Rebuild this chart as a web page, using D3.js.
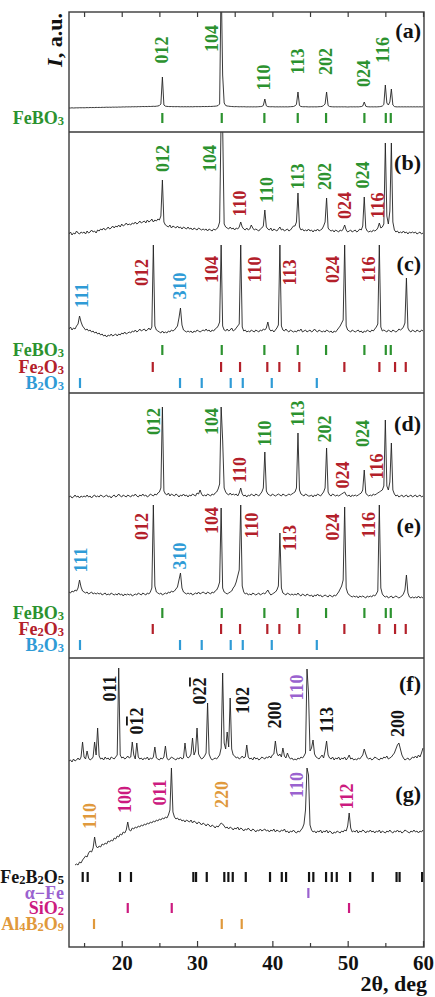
<!DOCTYPE html>
<html>
<head>
<meta charset="utf-8">
<script src="https://cdn.jsdelivr.net/npm/d3@7"></script>
<style>
  body { margin: 0; background: #fff; }
  svg text { font-family: "Liberation Serif", "Times New Roman", serif; font-weight: bold; }
</style>
</head>
<body>
<svg id="chart" width="435" height="997" font-family="Liberation Serif, Times New Roman, serif"></svg>
<script>
// Scans are recorded on a uniform 2θ grid: 13.0° … 60.0°, step 0.2°
const twoThetaStart = 13;
const twoThetaStep = 0.2;

// Intensities (a.u.), ten points (2°) per row; null = not measured
const scanA = [
  0,0,0.2,0,0.1,0.2,0.1,0.3,0.2,0.3,
  0.2,0.3,0.4,0.3,0.5,0.4,0.5,0.4,0.6,0.5,
  0.6,0.5,0.7,0.6,0.7,0.8,0.7,0.8,0.7,0.9,
  0.8,0.9,0.8,1,0.9,1,1.1,1,1.2,1.1,
  1.2,1.1,1.3,1.2,1.3,1.2,1.4,1.3,1.4,1.5,
  1.4,1.5,1.4,1.6,1.5,1.6,1.7,1.6,1.8,2,
  2.5,4,31,3,1.8,1.6,1.5,1.4,1.5,1.3,
  1.4,1.3,1.4,1.3,1.2,1.3,1.2,1.3,1.2,1.3,
  1.2,1.3,1.2,1.3,1.4,1.3,1.4,1.3,1.4,1.5,
  1.4,1.5,1.4,1.6,1.5,1.6,1.7,1.8,2,2.5,
  4,130,33,5,2.5,2,1.8,1.6,1.5,1.4,
  1.3,1.4,1.3,1.2,1.3,1.2,1.3,1.2,1.1,1.2,
  1.1,1.2,1.1,1.2,1.1,1.2,1.3,1.4,1.6,2.5,
  9,2.2,1.4,1.3,1.2,1.3,1.2,1.1,1.2,1.1,
  1.2,1.1,1.2,1.1,1.2,1.1,1.2,1.3,1.4,1.5,
  2.2,3.5,16,2.5,1.5,1.3,1.2,1.3,1.2,1.1,
  1.1,1.2,1.1,1.2,1.1,1.2,1.3,1.4,1.6,2.5,
  4,16,2.5,1.5,1.3,1.2,1.1,1.2,1.1,1.2,
  1.1,1.2,1.1,1.2,1.1,1.0,1.1,1.2,1.1,1.2,
  1.1,1.2,1.1,1.3,1.4,2,6,1.8,1.3,1.2,
  1.1,1.2,1.1,1.2,1.1,1.2,1.3,1.5,2,3.5,
  23,5,3,6,19,3,1.5,1.2,1.1,1.2,
  1.1,1.2,1.1,1.2,1.1,1.2,1.1,1.2,1.1,1.2,
  1.1,1.2,1.1,1.2,1.1,1.2
];
const scanB = [
  2,4,1,3,2,5,3,2,4,3,
  4,2,5,3,4,6,4,5,3,6,
  5,7,6,8,6,7,9,7,8,10,
  8,10,9,11,9,12,10,11,13,11,
  12,11,13,12,14,12,13,15,13,14,
  15,13,16,14,15,17,14,16,15,17,
  16,20,56,14,11,10,9,11,8,10,
  9,8,10,8,9,7,9,8,7,9,
  7,8,6,8,7,6,8,7,6,7,
  6,7,5,7,6,5,7,6,7,9,
  14,120,110,12,9,8,7,9,7,8,
  6,8,7,9,14,9,7,6,8,6,
  7,11,8,6,7,6,5,7,8,10,
  26,9,7,6,8,5,7,6,5,7,
  9,6,7,5,6,7,5,6,8,10,
  10,14,43,9,6,7,5,6,5,7,
  5,6,4,6,5,7,5,6,7,10,
  14,38,8,6,5,6,4,6,5,4,
  6,5,7,11,6,4,5,6,4,5,
  6,4,5,7,6,10,39,8,5,4,
  5,4,6,5,6,8,13,8,9,12,
  93,20,12,25,93,14,6,4,5,3,
  4,3,5,3,4,2,4,3,4,3,
  4,2,3,4,2,3
];
const scanC = [
  11,13,10,12,11,14,16,24,18,14,
  12,10,11,9,10,8,9,7,8,6,
  7,5,6,4,5,3,5,4,6,4,
  5,6,4,6,5,7,6,8,6,7,
  8,7,9,8,10,8,9,11,9,10,
  11,9,10,12,10,13,95,14,10,9,
  8,7,9,7,8,7,9,8,10,9,
  10,12,14,22,32,15,10,9,8,9,
  8,9,7,9,8,10,9,8,9,10,
  9,11,9,10,8,10,9,11,12,14,
  18,95,14,10,9,11,9,10,12,9,
  10,12,14,16,95,13,9,10,8,9,
  8,10,9,8,10,9,8,10,9,11,
  10,12,18,11,9,10,8,10,12,15,
  95,14,10,9,11,9,8,10,9,8,
  9,8,10,9,11,8,9,10,8,9,
  10,8,9,11,9,8,10,9,8,9,
  8,10,9,8,9,7,9,8,10,12,
  14,17,20,95,14,10,9,8,10,9,
  8,9,10,8,9,7,9,8,10,9,
  8,10,9,11,13,16,95,13,9,10,
  9,8,10,9,8,10,9,8,9,11,
  10,11,13,17,62,12,9,8,10,9,
  8,10,9,8,10,9
];
const scanD = [
  3,4,2,3,5,3,4,2,4,3,
  4,3,5,3,4,2,4,5,3,4,
  3,5,4,3,4,5,3,4,2,4,
  5,3,4,6,4,3,5,4,3,5,
  4,3,5,4,6,4,3,5,4,6,
  4,5,3,4,6,5,4,6,5,7,
  8,12,93,9,6,5,7,4,6,5,
  4,6,5,3,5,4,6,4,5,3,
  5,4,6,5,4,7,6,10,6,4,
  5,4,6,5,4,6,5,7,8,11,
  16,93,60,12,8,6,5,7,5,6,
  5,6,4,7,12,6,4,5,3,5,
  4,6,5,4,6,5,4,6,8,12,
  48,9,6,5,4,6,5,4,5,6,
  5,4,6,5,4,5,6,5,6,7,
  8,12,67,10,6,5,4,6,5,4,
  4,5,3,5,4,6,5,4,6,8,
  12,52,8,5,4,6,5,4,5,4,
  5,6,7,8,5,4,5,3,5,4,
  5,4,5,6,7,10,30,7,5,4,
  5,4,6,5,6,7,8,9,10,14,
  80,14,10,18,57,10,6,4,5,3,
  4,5,3,4,5,3,4,5,3,4,
  5,3,4,5,3,4
];
const scanE = [
  8,7,9,8,10,9,12,20,13,9,
  8,7,8,6,7,8,6,7,6,7,
  6,7,5,6,7,5,6,5,7,6,
  5,6,5,7,5,6,4,6,5,6,
  5,6,4,5,6,5,7,6,5,7,
  6,5,7,6,8,12,95,14,8,7,
  6,7,5,6,7,6,8,7,9,8,
  9,11,13,20,27,12,8,7,6,7,
  6,7,5,6,7,6,8,6,7,8,
  7,6,8,7,6,8,7,9,10,13,
  18,92,12,8,7,6,7,8,9,12,
  14,18,24,30,95,14,8,6,7,5,
  6,5,7,6,5,6,7,5,6,7,
  6,8,10,7,5,6,7,8,10,14,
  67,12,7,6,5,7,6,5,6,5,
  6,5,7,5,4,6,5,4,6,5,
  4,5,3,5,4,6,4,5,3,4,
  5,4,3,5,4,3,5,4,6,8,
  11,14,20,93,12,7,5,4,3,4,
  3,4,2,4,3,4,3,2,4,3,
  4,3,5,4,6,9,95,12,6,4,
  3,4,2,3,4,2,3,4,3,2,
  3,4,6,10,25,7,3,2,3,2,
  3,2,4,2,3,2
];
const scanF = [
  2,3,1,4,2,3,5,3,6,21,
  6,4,12,5,3,4,6,21,8,35,
  7,4,5,3,6,4,5,3,6,5,
  4,6,8,95,8,5,6,4,5,7,
  5,6,21,8,4,20,6,4,5,3,
  5,4,6,3,5,4,6,16,5,4,
  3,5,4,6,17,5,3,4,6,5,
  4,3,5,4,6,4,5,20,7,5,
  6,9,25,8,12,35,9,6,4,5,
  7,10,60,9,5,3,4,5,4,6,
  8,15,90,20,14,31,16,65,14,8,
  7,5,6,4,5,7,5,6,18,6,
  4,5,3,6,4,5,3,4,6,5,
  4,6,5,7,5,8,9,22,10,7,
  9,6,15,7,5,10,6,4,5,3,
  4,3,5,4,6,5,7,10,94,70,
  12,15,23,9,6,5,4,6,8,5,
  12,22,8,5,4,6,3,5,4,6,
  3,5,4,6,3,5,8,4,5,3,
  4,3,5,4,6,8,14,9,5,4,
  5,3,4,6,5,4,3,5,4,6,
  5,7,4,5,6,8,10,14,18,20,
  14,8,5,3,4,5,3,4,6,5,
  7,5,8,6,10,15
];
const scanG = [
  null,null,null,null,5,6,5,8,7,10,
  12,14,13,17,19,18,22,33,24,22,
  24,23,26,25,27,26,29,28,30,29,
  32,31,34,33,36,35,38,37,40,48,
  40,39,42,41,43,42,44,43,45,44,
  46,45,47,46,48,47,49,48,50,49,
  51,50,52,51,53,52,55,60,102,58,
  53,51,52,50,51,49,50,48,50,49,
  48,50,47,49,48,46,48,47,45,47,
  46,44,46,45,43,45,44,42,44,43,
  45,47,46,44,42,43,41,43,42,40,
  42,41,43,40,42,41,39,41,40,42,
  40,39,41,40,38,40,39,41,39,40,
  41,39,40,38,40,39,41,38,40,39,
  38,40,39,41,38,39,37,39,38,40,
  38,37,39,38,40,42,46,60,102,95,
  45,40,38,39,37,39,38,40,37,39,
  38,40,37,39,38,36,38,37,39,38,
  37,39,38,40,39,44,57,42,38,39,
  38,40,37,39,38,40,39,37,39,38,
  40,38,39,37,39,38,40,37,39,38,
  37,39,38,40,38,37,39,38,40,38,
  39,37,38,40,39,38,37,39,38,40,
  38,39,37,39,38,40
];

// Reference reflection positions (2θ, deg) of each phase
const refFeBO3 = [25.39, 33.28, 38.94, 43.37, 47.13, 52.22, 55.06, 55.72];
const refFe2O3 = [24.12, 33.19, 35.71, 39.33, 40.93, 43.58, 49.56, 54.21, 56.29, 57.71];
const refB2O3 = [14.46, 27.74, 30.62, 34.47, 36.07, 39.92, 45.9];
const refFe2B2O5 = [14.82, 15.48, 19.77, 21.23, 29.51, 29.87, 31.29, 33.62, 34.16, 34.74, 36.47,
  39.69, 41.25, 41.82, 44.87, 45.44, 47.13, 47.89, 48.55, 50.32, 53.33, 56.49, 56.89, 59.88];
const refAlphaFe = [44.78];
const refSiO2 = [20.8, 26.64, 50.18];
const refAl4B2O9 = [16.32, 33.28, 35.93];

// Miller indices: [hkl, 2θ, intensity level, phase]; {…} marks an overlined index
const labelsA = [["012",25.35,58,"FeBO3"],["104",32.0,69.5,"FeBO3"],["110",38.9,30.5,"FeBO3"],
  ["113",43.41,46.5,"FeBO3"],["202",47.13,46.5,"FeBO3"],["024",52.18,34.5,"FeBO3"],["116",54.7,58,"FeBO3"]];
const labelsB = [["012",25.48,77.5,"FeBO3"],["104",31.73,77.5,"FeBO3"],["110",35.71,32.5,"Fe2O3"],
  ["110",39.3,46,"FeBO3"],["113",43.41,59.5,"FeBO3"],["202",47.0,59.5,"FeBO3"],["024",49.65,30.5,"Fe2O3"],
  ["024",52.04,61,"FeBO3"],["116",54.04,30.5,"Fe2O3"]];
const labelsC = [["111",14.73,44.5,"B2O3"],["012",22.69,67.5,"Fe2O3"],["310",27.74,54,"B2O3"],
  ["104",31.99,70.5,"Fe2O3"],["110",37.7,70.5,"Fe2O3"],["113",42.35,67.5,"Fe2O3"],
  ["024",48.06,70.5,"Fe2O3"],["116",52.84,70.5,"Fe2O3"]];
const labelsD = [["012",24.29,78.5,"FeBO3"],["104",31.99,78.5,"FeBO3"],["110",35.71,30,"Fe2O3"],
  ["110",39.03,66.5,"FeBO3"],["113",43.41,86.5,"FeBO3"],["202",47.0,71,"FeBO3"],["024",49.39,25,"Fe2O3"],
  ["024",52.04,66.5,"FeBO3"],["116",53.9,33.5,"Fe2O3"]];
const labelsE = [["111",14.59,40,"B2O3"],["012",22.69,73.5,"Fe2O3"],["310",27.74,44,"B2O3"],
  ["104",31.99,79.5,"Fe2O3"],["110",37.3,74.5,"Fe2O3"],["113",42.35,62,"Fe2O3"],
  ["024",48.06,73,"Fe2O3"],["116",52.84,75,"Fe2O3"]];
const labelsF = [["011",18.45,74.5,"Fe2B2O5"],["0{1}2",22.03,42,"Fe2B2O5"],["02{2}",30.4,72,"Fe2B2O5"],
  ["102",36.1,62.5,"Fe2B2O5"],["200",40.36,48,"Fe2B2O5"],["110",43.28,75.5,"α−Fe"],
  ["113",47.26,43,"Fe2B2O5"],["200",56.69,39.5,"Fe2B2O5"]];
const labelsG = [["110",15.79,54,"Al4B2O9"],["100",20.44,70.5,"SiO2"],["011",25.08,77.5,"SiO2"],
  ["220",33.32,75.5,"Al4B2O9"],["110",43.28,85,"α−Fe"],["112",49.92,73.5,"SiO2"]];

const axisTicksMajor = [20, 30, 40, 50, 60];
const axisTicksMinor = [15, 25, 35, 45, 55];
const panelTags = ["(a)", "(b)", "(c)", "(d)", "(e)", "(f)", "(g)"];

// ---------- styling and layout ----------
const phaseColor = {
  "FeBO3": "#2c922f", "Fe2O3": "#b3202a", "B2O3": "#2f9bd6", "Fe2B2O5": "#141414",
  "α−Fe": "#9a62cf", "SiO2": "#cc1b7f", "Al4B2O9": "#e0993c"
};
const phaseRefs = {
  "FeBO3": refFeBO3, "Fe2O3": refFe2O3, "B2O3": refB2O3, "Fe2B2O5": refFe2B2O5,
  "α−Fe": refAlphaFe, "SiO2": refSiO2, "Al4B2O9": refAl4B2O9
};

const plotLeft = 69, plotRight = 424;
const panels = [{ top: 12, bottom: 132 }, { top: 132, bottom: 393 }, { top: 393, bottom: 658 }, { top: 658, bottom: 947 }];

const scans = [
  { values: scanA, panel: 0, zero: 108, labels: labelsA, tagY: 30 },
  { values: scanB, panel: 1, zero: 236, labels: labelsB, tagY: 162 },
  { values: scanC, panel: 1, zero: 340, labels: labelsC, tagY: 263 },
  { values: scanD, panel: 2, zero: 500, labels: labelsD, tagY: 423 },
  { values: scanE, panel: 2, zero: 600, labels: labelsE, tagY: 525 },
  { values: scanF, panel: 3, zero: 763, labels: labelsF, tagY: 683 },
  { values: scanG, panel: 3, zero: 870, labels: labelsG, tagY: 793 }
];

const stickRows = [
  ["FeBO3", 118],
  ["FeBO3", 350], ["Fe2O3", 367], ["B2O3", 383],
  ["FeBO3", 613], ["Fe2O3", 629], ["B2O3", 645],
  ["Fe2B2O5", 877], ["α−Fe", 893], ["SiO2", 908], ["Al4B2O9", 924]
];

const svg = d3.select("#chart");
const x = d3.scaleLinear().domain([13, 60]).range([69, 423]);

const defs = svg.append("defs");
panels.forEach((p, k) => {
  defs.append("clipPath").attr("id", "clip" + k)
    .append("rect").attr("x", plotLeft).attr("y", p.top)
    .attr("width", plotRight - plotLeft).attr("height", p.bottom - p.top);
});

// diffraction patterns with their hkl labels
scans.forEach((s, k) => {
  const y = d3.scaleLinear().domain([0, 100]).range([s.zero, s.zero - 100]);
  const line = d3.line()
    .defined(d => d !== null)
    .x((d, i) => x(twoThetaStart + i * twoThetaStep))
    .y(d => y(d));
  svg.append("path").datum(s.values)
    .attr("clip-path", `url(#clip${s.panel})`)
    .attr("d", line)
    .attr("fill", "none")
    .attr("stroke", "#222")
    .attr("stroke-width", 0.9)
    .attr("stroke-linejoin", "round");

  s.labels.forEach(([hkl, tt, level, phase]) => {
    const t = svg.append("text")
      .attr("transform", `translate(${x(tt)},${y(level)}) rotate(-90)`)
      .attr("text-anchor", "middle")
      .attr("dominant-baseline", "central")
      .attr("font-size", 18)
      .attr("fill", phaseColor[phase]);
    hkl.split(/(\{[^}]*\})/).filter(Boolean).forEach(seg => {
      if (seg[0] === "{") t.append("tspan").style("text-decoration", "overline").text(seg.slice(1, -1));
      else t.append("tspan").text(seg);
    });
  });

  svg.append("text")
    .attr("x", 421).attr("y", s.tagY)
    .attr("text-anchor", "end")
    .attr("dominant-baseline", "central")
    .attr("font-size", 22)
    .attr("fill", "#111")
    .text(panelTags[k]);
});

// chemical formula with small digits
function formula(sel, str, size, small) {
  let lowered = false;
  str.split(/(\d+)/).filter(Boolean).forEach(seg => {
    if (/^\d+$/.test(seg)) {
      sel.append("tspan").attr("font-size", small).attr("dy", lowered ? 0 : 1).text(seg);
      lowered = true;
    } else {
      sel.append("tspan").attr("font-size", size).attr("dy", lowered ? -1 : 0).text(seg);
      lowered = false;
    }
  });
}

// reference stick rows and phase names
stickRows.forEach(([phase, rowY]) => {
  svg.append("g").selectAll("line").data(phaseRefs[phase]).join("line")
    .attr("x1", d => x(d)).attr("x2", d => x(d))
    .attr("y1", rowY - 5).attr("y2", rowY + 5)
    .attr("stroke", phaseColor[phase])
    .attr("stroke-width", 2.2);
  const t = svg.append("text")
    .attr("x", 64).attr("y", rowY + 6)
    .attr("text-anchor", "end")
    .attr("fill", phaseColor[phase]);
  formula(t, phase, 18, 12.5);
});

// frame and panel dividers
svg.append("rect")
  .attr("x", plotLeft).attr("y", panels[0].top)
  .attr("width", plotRight - plotLeft).attr("height", panels[3].bottom - panels[0].top)
  .attr("fill", "none").attr("stroke", "#3a3a3a").attr("stroke-width", 1.4);
panels.slice(1).forEach(p => {
  svg.append("line").attr("x1", plotLeft).attr("x2", plotRight)
    .attr("y1", p.top).attr("y2", p.top)
    .attr("stroke", "#3a3a3a").attr("stroke-width", 1.4);
});

// axes: inward ticks on top and bottom, labels below
const bottomAxis = d3.axisBottom(x).tickValues(axisTicksMajor).tickSizeInner(-6).tickSizeOuter(0).tickPadding(8).tickFormat(d3.format("d"));
const gb = svg.append("g").attr("transform", `translate(0,${panels[3].bottom})`).call(bottomAxis);
gb.attr("font-family", null).attr("font-size", null);
gb.select(".domain").remove();
gb.selectAll("text").attr("font-size", 21).attr("fill", "#111");
gb.selectAll("line").attr("stroke", "#3a3a3a").attr("stroke-width", 1.2);

const bottomMinor = d3.axisBottom(x).tickValues(axisTicksMinor).tickSizeInner(-4).tickSizeOuter(0).tickFormat("");
const gbm = svg.append("g").attr("transform", `translate(0,${panels[3].bottom})`).call(bottomMinor);
gbm.select(".domain").remove();
gbm.selectAll("line").attr("stroke", "#3a3a3a").attr("stroke-width", 1.2);

const topAxis = d3.axisTop(x).tickValues(axisTicksMajor.concat(axisTicksMinor)).tickSizeInner(-5).tickSizeOuter(0).tickFormat("");
const gt = svg.append("g").attr("transform", `translate(0,${panels[0].top})`).call(topAxis);
gt.select(".domain").remove();
gt.selectAll("line").attr("stroke", "#3a3a3a").attr("stroke-width", 1.2);

// axis titles
svg.append("text")
  .attr("x", 427).attr("y", 991)
  .attr("text-anchor", "end")
  .attr("font-size", 22)
  .attr("fill", "#111")
  .text("2θ, deg");

const yTitle = svg.append("text")
  .attr("transform", "translate(62,40) rotate(-90)")
  .attr("text-anchor", "middle")
  .attr("font-size", 22)
  .attr("fill", "#111");
yTitle.append("tspan").attr("font-style", "italic").text("I");
yTitle.append("tspan").text(", a.u.");
</script>
</body>
</html>
